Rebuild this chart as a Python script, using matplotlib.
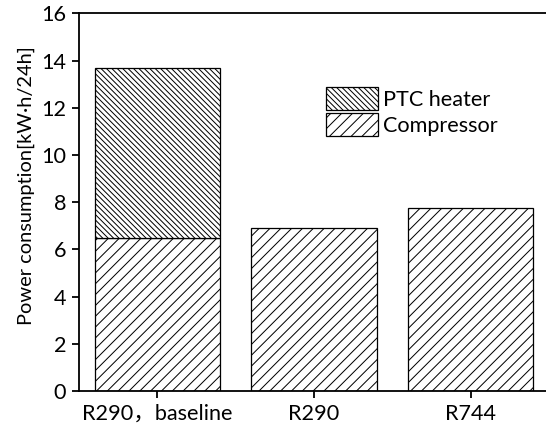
import matplotlib
matplotlib.use("Agg")
import matplotlib.pyplot as plt
import numpy as np

plt.rcParams['font.family'] = ['Lato', 'Noto Sans CJK SC', 'DejaVu Sans']
plt.rcParams['hatch.linewidth'] = 0.55
plt.rcParams['hatch.color'] = 'black'

# --- DATA ---
categories = ['R290，baseline', 'R290', 'R744']
compressor = [6.5, 6.92, 7.74]
ptc_heater = [7.2, 0.0, 0.0]

DPI = 130
fig = plt.figure(figsize=(546 / DPI, 427 / DPI), dpi=DPI)
ax = fig.add_axes([79 / 546, 1 - 391 / 427, 1 - 79 / 546, (391 - 13.3) / 427])

x = np.arange(len(categories))
b1 = ax.bar(x, compressor, width=0.8, color='white', edgecolor='black',
            linewidth=0.7, hatch='////', label='Compressor')
b2 = ax.bar(x[:1], ptc_heater[:1], bottom=compressor[:1], width=0.8, color='white',
            edgecolor='black', linewidth=0.7, hatch='\\' * 8, label='PTC heater')

ax.set_xlim(-0.5, 2.48)
ax.set_ylim(0, 16)
ax.set_yticks(range(0, 17, 2))
ax.set_xticks(x)
ax.set_xticklabels(categories)
ax.set_ylabel('Power consumption[kW·h/24h]', fontsize=11.05)
ax.yaxis.set_label_coords(-0.094, 0.545)
ax.tick_params(labelsize=12, direction='out', length=4, width=1.0, pad=3)
ax.spines['right'].set_visible(False)
for s in ['left', 'bottom', 'top']:
    ax.spines[s].set_linewidth(1.0)

fig.legend(handles=[b2, b1], labels=['PTC heater', 'Compressor'],
           loc='upper left', bbox_to_anchor=(326 / 546, 1 - 87 / 427),
           frameon=False, fontsize=12, borderpad=0, borderaxespad=0,
           handlelength=2.4, handleheight=1.25, handletextpad=0.25, labelspacing=0.15)

fig.savefig('out.png', dpi=DPI)
